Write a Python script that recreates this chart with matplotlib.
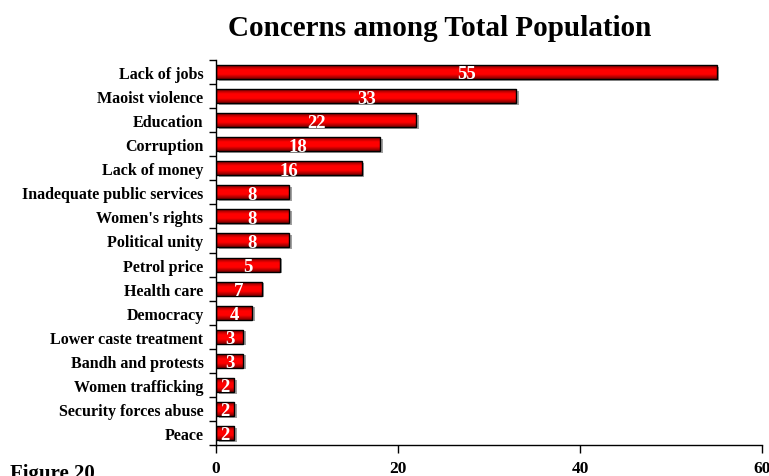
import numpy as np
import matplotlib.pyplot as plt
from matplotlib.colors import LinearSegmentedColormap

categories = ["Lack of jobs", "Maoist violence", "Education", "Corruption",
              "Lack of money", "Inadequate public services", "Women's rights",
              "Political unity", "Petrol price", "Health care", "Democracy",
              "Lower caste treatment", "Bandh and protests", "Women trafficking",
              "Security forces abuse", "Peace"]
values = [55, 33, 22, 18, 16, 8, 8, 8, 7, 5, 4, 3, 3, 2, 2, 2]
# labels as printed in the original (petrol / health care are swapped there)
labels = ["55", "33", "22", "18", "16", "8", "8", "8", "5", "7", "4", "3", "3", "2", "2", "2"]
xticks = [0, 20, 40, 60]

plt.rcParams["font.family"] = ["Liberation Serif", "DejaVu Serif"]
plt.rcParams["font.weight"] = "bold"

fig = plt.figure(figsize=(7.69, 4.77), dpi=100)
ax = fig.add_axes([216/769, 1 - 446/477, 546/769, 385/477])

y = np.arange(len(categories))
h = 0.58
red = LinearSegmentedColormap.from_list("bar", ["#7a0000", "#ff0000", "#ff0000", "#7a0000"])
grad = np.linspace(0, 1, 64).reshape(-1, 1)

# shadow
ax.barh(y + 0.07, values, height=h, left=0.3, color="#a0a0a0", zorder=1)
for yi, v in zip(y, values):
    ax.imshow(grad, extent=[0, v, yi + h/2, yi - h/2], cmap=red,
              aspect="auto", zorder=2, interpolation="bilinear")
ax.barh(y, values, height=h, facecolor="none", edgecolor="black", linewidth=1.0, zorder=3)

for yi, v, lab in zip(y, values, labels):
    ax.text(v / 2, yi + 0.08, lab, ha="center", va="center", color="white",
            fontsize=13.5, fontweight="bold", zorder=4)

ax.set_xlim(0, 60)
ax.set_ylim(len(categories) - 0.5, -0.5)
ax.set_xticks(xticks)
ax.set_yticks(y)
ax.set_yticklabels(categories)
ax.set_yticks(np.arange(-0.5, len(categories)), minor=True)
ax.tick_params(axis="y", which="major", length=0, pad=9, labelsize=11.5)
ax.tick_params(axis="y", which="minor", length=5, width=1)
ax.tick_params(axis="x", length=6, width=1, pad=5, labelsize=12.5)
for s in ["top", "right"]:
    ax.spines[s].set_visible(False)
ax.spines["left"].set_linewidth(1)
ax.spines["bottom"].set_linewidth(1)

fig.text(440/769, 1 - 28/477, "Concerns among Total Population", ha="center", va="center",
         fontsize=21, fontweight="bold")
fig.text(10/769, 1 - 464/477, "Figure 20", ha="left", va="top",
         fontsize=15, fontweight="bold")

fig.savefig("out.png", dpi=100)
